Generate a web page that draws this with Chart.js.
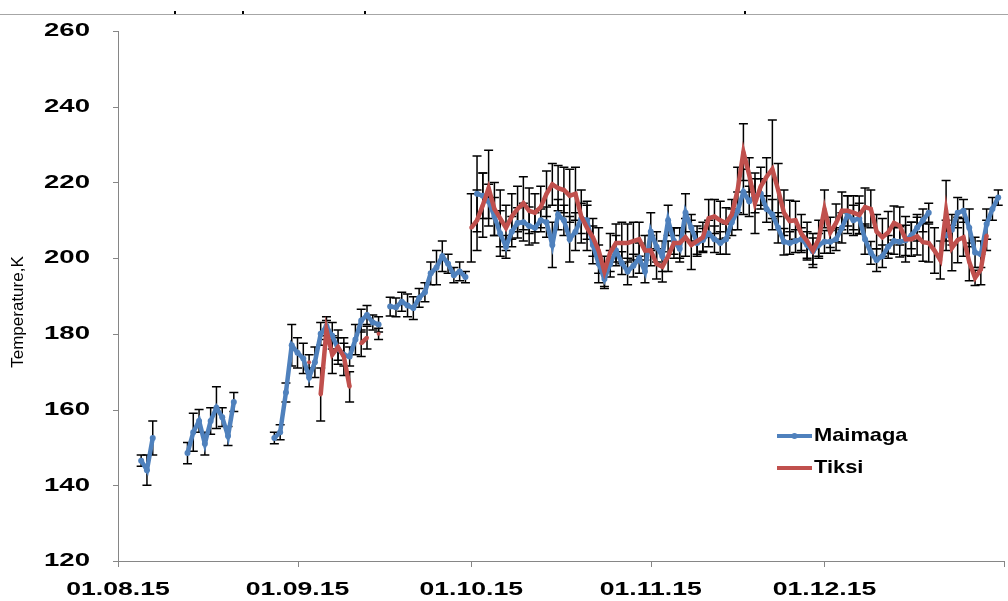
<!DOCTYPE html>
<html>
<head>
<meta charset="utf-8">
<script src="https://cdn.jsdelivr.net/npm/chart.js@4.4.1/dist/chart.umd.min.js"></script>
<style>
  body { margin: 0; background: #fff; }
  #wrap { width: 1008px; height: 601px; }
</style>
</head>
<body>
<div id="wrap"><canvas id="tempChart"></canvas></div>
<script>
// days are counted from 01.08.15 (day 0); series start at day 4
const firstDay = 4;
const monthTicks = [0, 31, 61, 92, 122, 153];
const monthLabels = ["01.08.15", "01.09.15", "01.10.15", "01.11.15", "01.12.15", ""];
const yTicks = [120, 140, 160, 180, 200, 220, 240, 260];

const maimaga = [
  146.5, 144, 152.5, null, null, null, null, null, 148.5, 154,
  157, 151, 157, 160.5, 158, 153, 162, null, null, null,
  null, null, null, 152.5, 154, 164.5, 177, 175, 173.5, 168.5,
  172.5, 180, 182, 179.5, 176, 174.5, 174, 178.5, 183.5, 185,
  183, 182.5, null, 187.2, 187, 188.5, 187.5, 186.8, 189.5, 191,
  196, 197.5, 200.5, 198.5, 195.5, 196.5, 195, null, 217, 216.5,
  215, 211, 206.5, 203, 207, 209.3, 209.5, 208.5, 208, 210,
  209.5, 203.5, 211.5, 210, 205, 207, 210.5, 210, 203.5, 198.5,
  194.5, 198.5, 202, 198.7, 196.5, 198, 200, 196.5, 207, 203,
  200.5, 210, 204.5, 202.5, 212, 208, 204, 204.8, 206.5, 205,
  204, 205, 209.5, 212.5, 217.5, 215, 216.5, 217, 213, 211.5,
  208, 204.3, 204, 204.5, 205, 203.5, 201.8, 203.5, 204.3, 204.3,
  205, 208, 211.5, 210, 210.5, 205, 201.4, 199.5, 200.5, 203,
  204.5, 204.3, 204.7, 206, 208, 210, 212, null, null, 206,
  207.5, 212, 212.5, 208, 201.5, 201, 209, 213, 216
];
const maimagaErr = [
  1.5, 4, 4.5, null, null, null, null, null, 2.8, 5,
  3, 3, 3.5, 5.5, 2.5, 2.5, 2.5, null, null, null,
  null, null, null, 1.5, 2, 2.5, 5.5, 4, 4, 2.5,
  4, 3, 2.5, 3.5, 3, 3, 2.5, 4, 3, 2.5,
  2, 2, null, 2.5, 2.5, 2.5, 3, 3, 2.5, 2.5,
  3, 4.5, 4, 2.5, 2, 2.5, 1.5, null, 10, 6,
  4.5, 5, 6, 3, 4, 4, 5, 5, 4, 3,
  4, 6, 4, 4, 6, 5, 4, 5, 5, 5,
  2.5, 3.5, 4, 3, 3.5, 3, 4, 3, 5, 4,
  4, 4, 3.5, 3.5, 5, 3.5, 3, 3, 3.5, 3.5,
  3, 4, 3.5, 5, 6, 4, 4.5, 4, 3.5, 4,
  4, 3.5, 3, 3, 3, 3.5, 3.5, 3, 3, 3,
  3, 4, 5, 4, 4, 4, 3, 3, 3, 3,
  3.5, 4, 4, 3.5, 3.5, 3, 2.5, null, null, 4,
  4, 4, 3, 5, 4, 3.5, 4, 3, 2
];
const tiksi = [
  null, null, null, null, null, null, null, null, null, null,
  null, null, null, null, null, null, null, null, null, null,
  null, null, null, null, null, null, null, null, null, 172.5,
  null, 164, 181, 174.5, 176.5, 174, 166, null, 177.5, 179,
  null, 180, null, null, null, null, null, null, null, null,
  null, null, null, null, null, null, null, 208, 210, 214,
  218.5, 213, 210.5, 208, 211, 213, 214.5, 212.5, 212, 213.5,
  217, 219.5, 218.5, 218, 216.5, 217, 211, 208, 205.5, 202,
  196.5, 201.5, 204, 204, 204, 204.5, 205, 202, 202, 198.5,
  197.7, 200.5, 204, 204, 205.5, 203.5, 204.5, 205.5, 210.5, 211,
  210, 209.3, 211.5, 218, 228, 222, 214.5, 219, 221.5, 223.5,
  218, 212, 209.8, 210, 206.5, 204.5, 202, 205, 213, 206.8,
  209.3, 212.5, 212.5, 212, 211.4, 213.5, 213, 207, 205.5, 206.8,
  209.3, 208.5, 205, 205, 205.8, 204.2, 204, 202, 199.5, 212.5,
  202.7, 204.8, 205.5, 199, 194.8, 197, 206, null, null
];
const tiksiErr = [
  null, null, null, null, null, null, null, null, null, null,
  null, null, null, null, null, null, null, null, null, null,
  null, null, null, null, null, null, null, null, null, 2,
  null, 7, 2.5, 5, 4.5, 5, 4, null, 3.5, 3,
  null, 1.5, null, null, null, null, null, null, null, null,
  null, null, null, null, null, null, null, 9, 8, 8.5,
  10, 7, 7.5, 6, 6, 6, 7, 6, 5, 5.5,
  6, 5.5, 6, 6, 7, 7, 7, 6, 5, 6,
  4, 5, 5, 5.5, 5, 5, 4.5, 4, 4, 4,
  4, 4, 4, 4, 5, 6.5, 4, 4, 5, 4.5,
  5, 4, 4, 6, 7.5, 4.5, 8, 5, 5, 13,
  7, 6, 5.5, 5, 5, 5, 4.5, 5, 5, 4,
  5, 5, 4, 4.5, 5, 5, 5, 4.5, 5, 5.5,
  4.5, 5, 6, 4.5, 5, 5, 5, 6, 5, 8,
  6, 6, 5, 5, 2, 4, 4, null, null
];

const days = maimaga.map((v, i) => firstDay + i);
const blue = "#4F81BD";
const red = "#C0504D";
const axisGrey = "#868686";
const errSets = [maimagaErr, tiksiErr];

function stretchedText(ctx, txt, x, y, sx, align) {
  ctx.save();
  ctx.translate(x, y);
  ctx.scale(sx, 1);
  ctx.textAlign = align;
  ctx.fillText(txt, 0, 0);
  ctx.restore();
}

const errorBars = {
  id: "errorBars",
  beforeDatasetsDraw(chart) {
    const ctx = chart.ctx;
    const ys = chart.scales.y;
    ctx.save();
    ctx.strokeStyle = "#000";
    ctx.lineWidth = 1.5;
    chart.data.datasets.forEach((ds, di) => {
      const meta = chart.getDatasetMeta(di);
      meta.data.forEach((pt, i) => {
        const v = ds.data[i].y;
        const e = errSets[di][i];
        if (v == null || e == null) return;
        const top = ys.getPixelForValue(v + e);
        const bot = ys.getPixelForValue(v - e);
        ctx.beginPath();
        ctx.moveTo(pt.x, top); ctx.lineTo(pt.x, bot);
        ctx.moveTo(pt.x - 4.5, top); ctx.lineTo(pt.x + 4.5, top);
        ctx.moveTo(pt.x - 4.5, bot); ctx.lineTo(pt.x + 4.5, bot);
        ctx.stroke();
      });
    });
    ctx.restore();
  }
};

const axesAndText = {
  id: "axesAndText",
  beforeDatasetsDraw(chart) {
    const ctx = chart.ctx;
    const a = chart.chartArea;
    const xs = chart.scales.x, ys = chart.scales.y;
    ctx.save();
    // strip of the figure above
    ctx.strokeStyle = "#a6a6a6";
    ctx.lineWidth = 1;
    ctx.beginPath(); ctx.moveTo(0, 14.5); ctx.lineTo(1008, 14.5); ctx.stroke();
    ctx.fillStyle = "#000";
    [175, 243, 365, 745].forEach(x => ctx.fillRect(x - 1, 11, 2, 3));

    ctx.strokeStyle = axisGrey;
    ctx.beginPath();
    ctx.moveTo(a.left + 0.5, a.top); ctx.lineTo(a.left + 0.5, a.bottom);
    ctx.moveTo(a.left, a.bottom + 0.5); ctx.lineTo(a.right, a.bottom + 0.5);
    yTicks.forEach(t => {
      const y = Math.round(ys.getPixelForValue(t)) + 0.5;
      ctx.moveTo(a.left - 5, y); ctx.lineTo(a.left, y);
    });
    monthTicks.forEach(t => {
      const x = Math.round(xs.getPixelForValue(t)) + 0.5;
      ctx.moveTo(x, a.bottom); ctx.lineTo(x, a.bottom + 6);
    });
    ctx.stroke();
    ctx.restore();
  },
  afterDraw(chart) {
    const ctx = chart.ctx;
    const xs = chart.scales.x, ys = chart.scales.y;
    ctx.save();
    ctx.fillStyle = "#000";
    ctx.textBaseline = "middle";
    ctx.font = "bold 19px 'Liberation Sans', Arial, sans-serif";
    yTicks.forEach(t => stretchedText(ctx, String(t), 90, ys.getPixelForValue(t), 1.45, "right"));
    monthLabels.forEach((l, i) => {
      if (l) stretchedText(ctx, l, xs.getPixelForValue(monthTicks[i]), 590, 1.4, "center");
    });

    // axis title
    ctx.save();
    ctx.translate(18, 312);
    ctx.rotate(-Math.PI / 2);
    ctx.textAlign = "center";
    ctx.font = "17px 'Liberation Sans', Arial, sans-serif";
    ctx.fillText("Temperature,K", 0, 0);
    ctx.restore();

    // legend
    const items = [["Maimaga", blue, 436, 3], ["Tiksi", red, 468, 2]];
    items.forEach(([name, col, y, r]) => {
      ctx.strokeStyle = col;
      ctx.lineWidth = 4;
      ctx.beginPath(); ctx.moveTo(777, y); ctx.lineTo(812, y); ctx.stroke();
      ctx.fillStyle = col;
      ctx.beginPath(); ctx.arc(794.5, y, r, 0, Math.PI * 2); ctx.fill();
      ctx.fillStyle = "#000";
      ctx.font = "bold 19px 'Liberation Sans', Arial, sans-serif";
      stretchedText(ctx, name, 814, y, 1.15, "left");
    });
    ctx.restore();
  }
};

new Chart(document.getElementById("tempChart"), {
  type: "line",
  data: {
    datasets: [
      {
        label: "Maimaga",
        data: days.map((d, i) => ({ x: d, y: maimaga[i] })),
        borderColor: blue,
        backgroundColor: blue,
        borderWidth: 4.5,
        pointRadius: 3,
        pointBorderWidth: 0,
        pointBackgroundColor: blue,
        tension: 0,
        order: 1,
      },
      {
        label: "Tiksi",
        data: days.map((d, i) => ({ x: d, y: tiksi[i] })),
        borderColor: red,
        backgroundColor: red,
        borderWidth: 4.5,
        pointRadius: 2,
        pointBorderWidth: 0,
        pointBackgroundColor: red,
        tension: 0,
        order: 0,
      },
    ],
  },
  options: {
    responsive: true,
    maintainAspectRatio: false,
    animation: false,
    layout: { padding: { left: 118, right: 3, top: 31, bottom: 40 } },
    plugins: {
      legend: { display: false },
      tooltip: { enabled: false },
    },
    scales: {
      x: { type: "linear", min: 0, max: 153, display: false },
      y: { min: 120, max: 260, display: false },
    },
  },
  plugins: [axesAndText, errorBars],
});
</script>
</body>
</html>
